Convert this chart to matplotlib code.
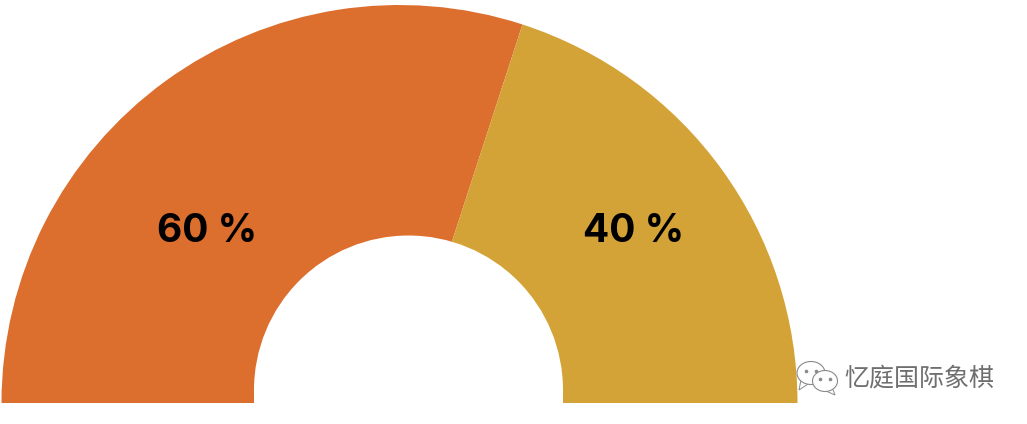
import matplotlib
matplotlib.use("Agg")
import matplotlib.pyplot as plt
from matplotlib.patches import Circle, Rectangle, Polygon, Ellipse

labels = ["60 %", "40 %"]
values = [60, 40]
colors = ["#DC6E2E", "#D3A337"]
watermark = "忆庭国际象棋"

W, H = 1027, 424
fig = plt.figure(figsize=(W / 100, H / 100), dpi=100)
ax = fig.add_axes([0, 0, 1, 1])


def py(y):
    # picture rows count downward, the axes count upward
    return H - y


# half pie: the hidden half is the same total as the visible one
ax.pie(values + [sum(values)], colors=colors + ["none"], startangle=180,
       counterclock=False, center=(399.5, py(403)), radius=398, frame=False,
       wedgeprops=dict(linewidth=0))
ax.set_xlim(0, W)
ax.set_ylim(0, H)
ax.set_aspect("auto")
ax.axis("off")

# the hole is a circle sitting above the base, with straight sides below it
ax.add_patch(Circle((408.5, py(390)), 154.5, fc="white", ec="none", zorder=3))
ax.add_patch(Rectangle((254, py(404)), 309, 14, fc="white", ec="none", zorder=3))

ax.text(207, py(231), labels[0], ha="center", va="center", fontsize=28,
        fontweight="bold", family="Inter", color="black", zorder=4)
ax.text(634, py(231), labels[1], ha="center", va="center", fontsize=28,
        fontweight="bold", family="Inter", color="black", zorder=4)

# watermark icon: two chat bubbles
icon = "#8a8a8a"
for (x, y, w, h, tail) in [(811, 373, 28, 23, [(801, 380), (799, 390), (808, 384)]),
                           (825, 381, 25, 21, [(832, 387), (835, 395), (826, 391)])]:
    ax.add_patch(Polygon([(px, py(qy)) for px, qy in tail], fc="white", ec=icon, lw=0.7, zorder=5))
    ax.add_patch(Ellipse((x, py(y)), w, h, fc="white", ec=icon, lw=0.8, zorder=5))
ax.plot([806, 816, 820, 830], [py(371), py(371), py(379), py(379)], ls="none",
        marker="o", ms=1.6, color=icon, zorder=6)

ax.text(919, py(379), watermark, ha="center", va="center", fontsize=18,
        family=["Noto Sans CJK SC", "DejaVu Sans"], color="#6f6f6f", zorder=5)

fig.savefig("out.png", dpi=100)
